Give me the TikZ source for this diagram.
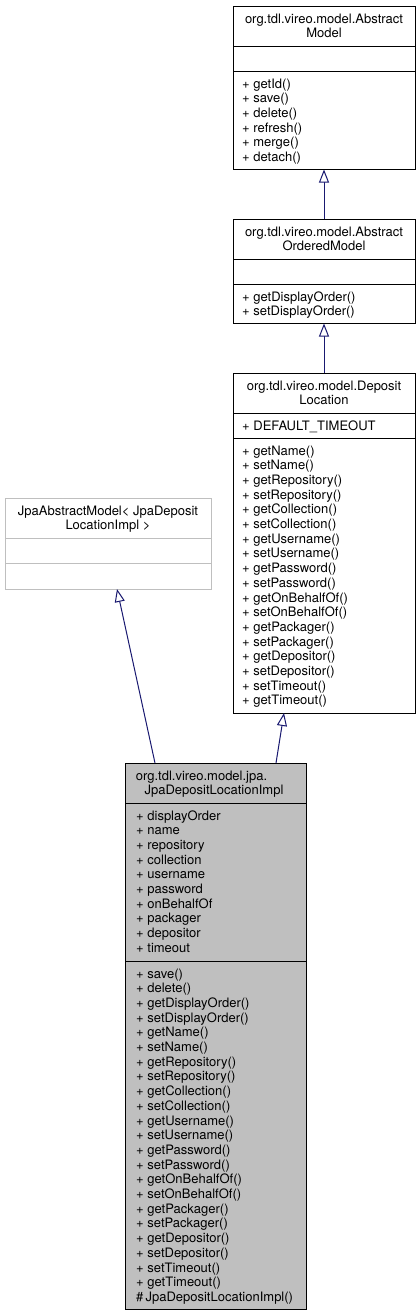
\documentclass[tikz,border=0pt]{standalone}
\usepackage{fontspec}
\setmainfont{TeX Gyre Heros}
\usetikzlibrary{arrows.meta}
\definecolor{edgeblue}{HTML}{191970}
\definecolor{boxgray}{HTML}{BFBFBF}
\begin{document}
\begin{tikzpicture}[x=1pt,y=-1pt,
  cls/.style={draw=black, line width=1pt, anchor=north west, inner sep=0pt, outer sep=0pt},
  sep/.style={line width=1pt},
  ttl/.style={font=\fontsize{13}{14.7}\selectfont, inner sep=0pt, anchor=base},
  ln/.style={font=\fontsize{13}{14.7}\selectfont, inner sep=0pt, anchor=base west},
  inh/.style={draw=edgeblue, line width=1pt, -{Triangle[open,length=13pt,width=10pt,fill=white]}}]
\useasboundingbox (0,0) rectangle (420,1315);

% ---------- Box A: AbstractModel
\node[cls, minimum width=182pt, minimum height=163.5pt] (A) at (233,6) {};
\draw[sep] (233,46) -- (415,46);
\draw[sep] (233,71) -- (415,71);
\node[ttl] at (324,18.5+4.5) {org.tdl.vireo.model.Abstract};
\node[ttl] at (324,33.2+4.5) {Model};
\foreach \t [count=\i from 0] in {getId(),save(),delete(),refresh(),merge(),detach()}
  \node[ln] at (242,83.5+14.7*\i+4.5) {+ \t};

% ---------- Box B: AbstractOrderedModel
\node[cls, minimum width=182pt, minimum height=104.5pt] (B) at (233,219) {};
\draw[sep] (233,259) -- (415,259);
\draw[sep] (233,284) -- (415,284);
\node[ttl] at (324,231.5+4.5) {org.tdl.vireo.model.Abstract};
\node[ttl] at (324,246.2+4.5) {OrderedModel};
\foreach \t [count=\i from 0] in {getDisplayOrder(),setDisplayOrder()}
  \node[ln] at (242,296.5+14.7*\i+4.5) {+ \t};

% ---------- Box C: DepositLocation
\node[cls, minimum width=182pt, minimum height=340pt] (C) at (233,373) {};
\draw[sep] (233,413) -- (415,413);
\draw[sep] (233,438) -- (415,438);
\node[ttl] at (324,385.5+4.5) {org.tdl.vireo.model.Deposit};
\node[ttl] at (324,400.2+4.5) {Location};
\node[ln] at (242,425.5+4.5) {+ DEFAULT\_TIMEOUT};
\foreach \t [count=\i from 0] in {getName(),setName(),getRepository(),setRepository(),getCollection(),setCollection(),getUsername(),setUsername(),getPassword(),setPassword(),getOnBehalfOf(),setOnBehalfOf(),getPackager(),setPackager(),getDepositor(),setDepositor(),setTimeout(),getTimeout()}
  \node[ln] at (242,450.5+14.7*\i+4.5) {+ \t};

% ---------- Box D: JpaAbstractModel
\node[cls, draw=boxgray, minimum width=206pt, minimum height=91pt] (D) at (5,498) {};
\draw[sep, boxgray] (5,538) -- (211,538);
\draw[sep, boxgray] (5,563) -- (211,563);
\node[ttl] at (108,510.5+4.5) {JpaAbstractModel< JpaDeposit};
\node[ttl] at (108,525.2+4.5) {LocationImpl >};

% ---------- Box E: JpaDepositLocationImpl
\node[cls, fill=boxgray, minimum width=181pt, minimum height=546pt] (E) at (125,763) {};
\draw[sep] (125,803) -- (306,803);
\draw[sep] (125,961) -- (306,961);
\node[ttl] at (201.5,775.5+4.5) {org.tdl.vireo.model.jpa.};
\node[ttl] at (214,790.2+4.5) {JpaDepositLocationImpl};
\foreach \t [count=\i from 0] in {displayOrder,name,repository,collection,username,password,onBehalfOf,packager,depositor,timeout}
  \node[ln] at (136,815.5+14.7*\i+4.5) {+ \t};
\foreach \t [count=\i from 0] in {save(),delete(),getDisplayOrder(),setDisplayOrder(),getName(),setName(),getRepository(),setRepository(),getCollection(),setCollection(),getUsername(),setUsername(),getPassword(),setPassword(),getOnBehalfOf(),setOnBehalfOf(),getPackager(),setPackager(),getDepositor(),setDepositor(),setTimeout(),getTimeout()}
  \node[ln] at (136,973.5+14.7*\i+4.5) {+ \t};
\node[ln] at (136,973.5+14.7*22+4.5) {\#\,JpaDepositLocationImpl()};

% ---------- Inheritance connectors
\draw[inh] (B.north) -- (A.south);
\draw[inh] (C.north) -- (B.south);
\draw[inh] ([xshift=-30pt]E.north east) -- ([xshift=-40pt]C.south);
\draw[inh] ([xshift=30pt]E.north west) -- ([xshift=9pt]D.south);
\end{tikzpicture}
\end{document}
